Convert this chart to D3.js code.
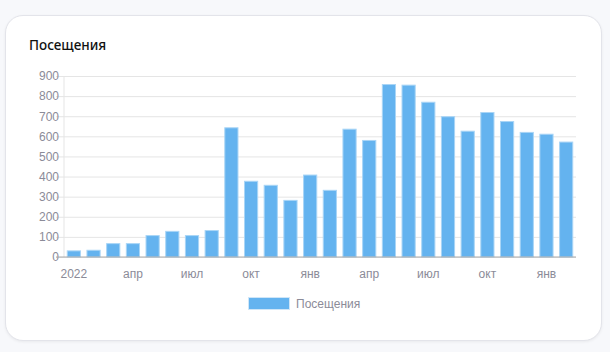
<!DOCTYPE html>
<html>
<head>
<meta charset="utf-8">
<script src="https://cdn.jsdelivr.net/npm/d3@7"></script>
<style>
  html, body { margin: 0; padding: 0; background: #f7f8fb; }
  body { width: 610px; height: 352px; overflow: hidden; }
  .card {
    position: absolute; left: 5px; top: 15px; width: 597px; height: 326px;
    background: #fff; border: 1px solid #e3e4ea; border-radius: 18px;
    box-shadow: 0 1px 3px rgba(0,0,0,0.06); box-sizing: border-box;
  }
  #chart { position: absolute; left: 0; top: 0; }
  .grid line { stroke: #e5e5e5; }
  .grid path { display: none; }
  .tick text { fill: #8b8b98; font-family: "Liberation Sans", Arial, sans-serif; font-size: 12px; }
</style>
</head>
<body>
<div class="card"></div>
<div id="chart"></div>
<script>
// monthly visits, Jan 2022 .. Feb 2024
var months = ["2022", "фев", "мар", "апр", "май", "июн", "июл", "авг", "сен", "окт", "ноя", "дек",
              "янв", "фев", "мар", "апр", "май", "июн", "июл", "авг", "сен", "окт", "ноя", "дек",
              "янв", "фев"];
var visits = [33, 36, 69, 69, 109, 130, 109, 134, 645, 379, 359, 284,
              410, 334, 638, 582, 860, 857, 772, 700, 628, 721, 676, 622,
              613, 574];
var yTicks = [0, 100, 200, 300, 400, 500, 600, 700, 800, 900];
var shownLabels = [0, 3, 6, 9, 12, 15, 18, 21, 24];

var margin = { top: 76, right: 34, bottom: 95, left: 64 },
    width = 610 - margin.left - margin.right,
    height = 352 - margin.top - margin.bottom;

var svg = d3.select("#chart")
    .append("svg")
    .attr("width", 610)
    .attr("height", 352);

// title
svg.append("text")
    .attr("x", 29)
    .attr("y", 50)
    .attr("font-family", "'Noto Sans', 'Open Sans', sans-serif")
    .attr("font-size", 13.5)
    .attr("font-weight", 500)
    .attr("fill", "#111")
    .text("Посещения");

var g = svg.append("g")
    .attr("transform", "translate(" + margin.left + "," + margin.top + ")");

var x = d3.scaleBand()
    .domain(d3.range(visits.length))
    .range([0, width])
    .paddingInner(0.28)
    .paddingOuter(0.14);

var y = d3.scaleLinear()
    .domain([0, 900])
    .range([height, 0]);

// y gridlines with tick marks
var yAxis = g.append("g")
    .attr("class", "grid")
    .call(d3.axisLeft(y)
        .tickValues(yTicks)
        .tickSize(-width - 8)
        .tickPadding(4))
    .call(function (s) { s.selectAll(".tick line").attr("x1", -8).attr("x2", width); });
yAxis.selectAll(".tick text").attr("x", -5);

// left axis line
g.append("line")
    .attr("x1", 0).attr("x2", 0)
    .attr("y1", 0).attr("y2", height)
    .attr("stroke", "#e5e5e5");

// bars
g.selectAll(".bar")
    .data(visits)
    .enter()
    .append("rect")
    .attr("class", "bar")
    .attr("x", function (d, i) { return x(i) + 0.5; })
    .attr("y", function (d) { return y(d) + 0.5; })
    .attr("width", x.bandwidth() - 1)
    .attr("height", function (d) { return height - y(d) - 0.5; })
    .attr("fill", "#64b3ef")
    .attr("stroke", "#a9d5f6")
    .attr("stroke-width", 1);

// zero line
g.append("line")
    .attr("x1", -8).attr("x2", width)
    .attr("y1", height).attr("y2", height)
    .attr("stroke", "#aaaaaa");

// x axis labels
var xAxis = g.append("g")
    .attr("transform", "translate(0," + height + ")")
    .call(d3.axisBottom(x)
        .tickValues(shownLabels)
        .tickFormat(function (i) { return months[i]; })
        .tickSize(0)
        .tickPadding(12));
xAxis.select(".domain").remove();

// legend
var legend = svg.append("g")
    .attr("transform", "translate(248,297)");
legend.append("rect")
    .attr("x", 0.5).attr("y", 0.5)
    .attr("width", 41).attr("height", 12)
    .attr("fill", "#64b3ef")
    .attr("stroke", "#cfe6f8");
legend.append("text")
    .attr("x", 48)
    .attr("y", 11)
    .attr("font-family", "'Liberation Sans', Arial, sans-serif")
    .attr("font-size", 12)
    .attr("fill", "#8b8b98")
    .text("Посещения");
</script>
</body>
</html>
